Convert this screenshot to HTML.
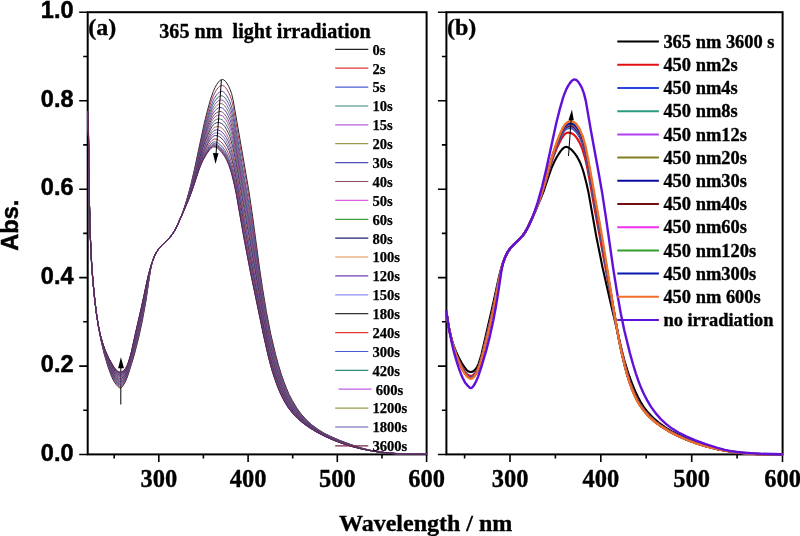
<!DOCTYPE html>
<html><head><meta charset="utf-8"><style>
html,body{margin:0;padding:0;background:#fff;}
body{width:800px;height:536px;overflow:hidden;}
svg{display:block;will-change:transform;}
.yl{font-family:"Liberation Sans",sans-serif;font-weight:bold;font-size:23.5px;text-anchor:end;}
.xl{font-family:"Liberation Serif",serif;font-weight:bold;font-size:24.5px;text-anchor:middle;}
.la{font-family:"Liberation Serif",serif;font-weight:bold;font-size:14.6px;}
.lb{font-family:"Liberation Serif",serif;font-weight:bold;font-size:18.45px;}
.t{font-family:"Liberation Serif",serif;font-weight:bold;}
.xl,.la,.lb,.t{stroke:#000;stroke-width:0.35px;}
.la{stroke-width:0.25px;}
.yl,.ab{stroke:#000;stroke-width:0.5px;}
</style></head><body>
<svg width="800" height="536" viewBox="0 0 800 536">
<g fill="none" stroke="#000" stroke-width="2"><rect x="87.7" y="12.2" width="338.9" height="442.2"/><rect x="446.4" y="12.2" width="336.2" height="442.2"/><path d="M79.2,454.5H87.7M83.2,410.3H87.7M79.2,366.1H87.7M83.2,321.8H87.7M79.2,277.6H87.7M83.2,233.4H87.7M79.2,189.2H87.7M83.2,144.9H87.7M79.2,100.7H87.7M83.2,56.5H87.7M79.2,12.2H87.7M437.9,454.5H446.4M441.9,410.3H446.4M437.9,366.1H446.4M441.9,321.8H446.4M437.9,277.6H446.4M441.9,233.4H446.4M437.9,189.2H446.4M441.9,144.9H446.4M437.9,100.7H446.4M441.9,56.5H446.4M437.9,12.2H446.4M114.2,454.5V458.5M158.8,454.5V462M203.4,454.5V458.5M248.1,454.5V462M292.7,454.5V458.5M337.3,454.5V462M382,454.5V458.5M426.6,454.5V462M464.6,454.5V458.5M510,454.5V462M555.4,454.5V458.5M600.8,454.5V462M646.2,454.5V458.5M691.7,454.5V462M737.1,454.5V458.5M782.5,454.5V462" stroke-width="1.6"/></g>
<path d="M120.8,404.5 V367" stroke="#000" stroke-width="1"/>
<g fill="none" stroke-width="0.9" stroke-linejoin="round">
<path d="M87.6,112.1 88.1,112.1 88.4,123.1 89.2,190.8 90.1,233.2 91,253.8 91.8,268.3 93.2,284.9 94.5,297.9 96.8,315.4 99,329.5 101.7,343.2 104.3,354.3 107.9,366.5 111.5,376.3 112.8,379.2 114.6,382.4 116,384.3 117.7,386.3 119.5,387.8 120.4,388.1 120.9,388.1 121.8,387.4 122.6,386.3 124.9,382.6 126.7,378.7 128.4,373.9 134.3,354.8 138.7,337.5 142.3,321 145.9,301.2 150.3,270.8 151.7,264.4 153,259.8 155.2,254.3 156.6,251.9 158.4,249.2 161,246.1 168.6,238.6 171.3,235.4 173.5,232.2 175.8,228.5 177.5,225.1 181.1,216.9 183.3,210.7 186,202.4 188.7,193.1 190.9,184.5 194.5,169.1 204.3,123 207.5,110.2 210.6,99.1 213.3,91.4 215,87.6 216.8,84.4 218.6,81.9 219.9,80.5 221.3,79.6 222.6,79.5 224,80 225.8,81.7 227.1,83.6 228.9,86.8 230.2,89.8 231.6,93.6 233.3,100.9 248.5,188.7 252.1,212.6 259.2,265.6 262.4,287.3 266.4,311.6 270.8,334.2 275.7,354.8 278.4,364.7 281.1,373.6 283.8,381.4 286.5,388.3 289.1,394.4 292.3,400.5 296.7,407.9 301.2,414.1 306.1,419.6 311.5,424.6 317.3,428.9 323.5,432.8 331.1,436.6 339.6,440.3 350.7,444.5 361,447.9 368.6,449.9 376.2,451.4 385.1,452.6 394.9,453.4 426.6,454.3" stroke="#111"/>
<path d="M87.6,112.1 88.1,112.1 88.4,120.4 89.2,191 90.1,233 91,253.6 91.8,268.1 93.2,284.7 94.5,297.9 96.3,312.3 98.5,326.9 101.2,340.9 103.9,352.1 107.5,364.3 111,374.2 112.4,377.2 114.2,380.5 115.5,382.5 117.3,384.6 119.5,386.5 120.4,386.8 120.9,386.8 122.2,385.7 124,383.1 125.8,379.8 127.6,375.4 129.8,368.8 132.5,359.9 137.4,341.5 141.8,321.8 145.9,300 150.3,270.6 151.7,264.3 153,259.8 155.2,254.4 156.6,251.9 158.4,249.2 161,246.1 168.6,238.6 170.9,236 173.1,232.9 175.3,229.3 177.1,226 180.7,218 182.9,212.1 185.6,204.1 190.5,187 194.5,170.3 203.9,127.6 207,115.3 210.6,103.1 213.3,95.8 214.6,93.1 216.4,90.1 218.2,87.7 219.9,86.1 221.3,85.4 222.6,85.4 224,86.1 225.8,87.9 227.1,89.8 228.9,93 230.2,96.1 231.6,100 233.3,107.3 246.3,181.3 249.4,200.2 253,224.3 260.1,275.8 263.7,299.1 267.3,319.3 270.8,336.7 275.7,357 278.4,366.6 281.1,375.3 283.3,381.7 286,388.6 288.7,394.6 291.8,400.7 296.3,408.1 300.7,414.1 305.6,419.6 311,424.6 316.8,428.9 323.1,432.8 330.6,436.6 339.6,440.5 350.7,444.6 361,448 369,450.1 376.6,451.5 385.5,452.7 395.4,453.4 406.1,453.9 426.6,454.3" stroke="#9b2945"/>
<path d="M87.6,112 88.1,112 88.4,120.2 89.2,191.2 90.1,232.7 91,253.3 91.8,267.9 93.2,284.6 94.5,297.9 96.3,312.3 98.5,326.9 101.2,340.7 103.9,351.7 107.5,363.5 111,373.2 112.4,376.1 114.2,379.4 115.5,381.3 117.3,383.4 119.1,385 120.4,385.5 120.9,385.5 121.8,384.9 123.5,382.7 125.3,379.6 127.1,375.6 128.9,370.6 131.6,361.9 136.9,341.9 141.4,322.5 145.4,301.4 150.3,270.4 151.7,264.3 153.4,258.5 155.7,253.5 157,251.2 158.8,248.6 161.5,245.6 168.6,238.7 170.9,236 173.1,233 176.7,226.8 180.7,218 182.9,212.1 185.6,204.3 190.5,187.7 194.1,173.3 203.4,132.2 207,118.7 210.1,108.5 212.8,101.4 214.1,98.7 215.9,95.9 217.7,93.6 219.5,92.1 220.8,91.4 222.2,91.3 223.5,91.9 225.3,93.6 226.6,95.4 228.4,98.6 229.8,101.5 231.1,105.2 232.4,109.9 233.3,113.9 249.4,206.2 253,229.7 260.1,279.7 263.7,302.4 267.3,322.3 270.8,339.4 275.7,359.2 278.4,368.6 281.1,377.1 283.3,383.3 286,390 288.7,395.9 291.8,401.8 296.3,408.9 300.7,414.8 306.1,420.6 311.5,425.3 317.3,429.5 323.9,433.5 331.5,437.2 340.5,441 351.2,444.9 361,448 369,450.1 377.1,451.6 386,452.7 396.3,453.5 407,453.9 426.6,454.3" stroke="#433d9d"/>
<path d="M87.6,112 88.1,112 88.3,117.4 89.2,191.3 90.1,232.5 91,253.1 91.8,267.8 93.2,284.6 94.5,297.9 96.3,312.4 98.5,326.9 100.8,338.4 103.5,349.7 106.6,360.3 110.6,371.3 111.9,374.4 113.7,377.8 115.5,380.5 117.3,382.5 119.1,384 120.4,384.6 120.9,384.5 121.8,383.9 123.5,381.8 125.3,378.8 127.1,374.9 128.9,369.9 131.1,362.7 136.5,342.6 140.9,323.5 145,303 150.3,270.2 151.7,264.2 153.4,258.5 155.7,253.5 157,251.2 158.8,248.6 161.5,245.6 168.6,238.7 172.6,233.7 176.2,227.7 180.2,219 182.5,213.4 185.1,205.8 190,189.8 193.6,176 203.4,134.1 206.6,122.7 209.7,112.7 212.4,105.6 213.7,102.9 215.5,100.2 217.3,98 219.1,96.5 220.8,95.8 222.2,95.8 223.5,96.5 225.3,98.2 226.6,100.1 228.4,103.3 229.8,106.3 231.1,110 233.3,118.7 249.4,210.6 253,233.7 259.7,279.6 263.2,302.2 266.8,322.1 270.4,339.4 275.3,359.2 278,368.6 280.7,377 282.9,383.3 285.6,390 288.2,395.9 291.4,401.8 295.8,408.8 300.3,414.7 305.2,420 311,425.2 316.8,429.4 323.5,433.4 331.5,437.4 340.5,441.1 351.2,445 361,448.1 369,450.1 377.1,451.6 386.4,452.8 396.7,453.5 407.9,454 426.6,454.3" stroke="#33586a"/>
<path d="M87.6,112 88.1,112 88.3,117.3 89.2,191.5 90.1,232.3 91,252.9 91.8,267.6 93.2,284.5 94.5,297.8 96.3,312.4 98.5,326.9 100.8,338.3 103.5,349.3 106.6,359.8 110.6,370.6 113.7,376.9 115.5,379.6 117.3,381.7 119.1,383.1 120.4,383.6 120.9,383.6 121.8,383 123.5,381 125.3,378.1 127.1,374.2 128.9,369.2 130.7,363.5 136.5,341.5 140.9,322.5 145,302 150.3,270 151.7,264.2 153.4,258.6 155.7,253.5 157,251.2 158.8,248.6 161.5,245.6 168.6,238.7 172.6,233.7 176.2,227.6 179.8,220 182.5,213.4 185.1,206 190,190.3 193.6,176.8 203,137.7 206.1,126.5 209.2,116.7 212.4,108.7 213.7,106.2 215,104.2 216.8,102.2 218.6,100.7 220.4,100 221.7,100 223.1,100.5 224.9,102.1 226.6,104.6 228.4,107.9 229.8,110.9 231.1,114.7 233.3,123.3 249.4,214.8 253,237.5 259.7,282.4 263.2,304.6 266.8,324.3 270.8,343.2 275.7,362.4 280.7,378.3 282.9,384.5 285.6,391 288.2,396.7 291.4,402.5 295.8,409.4 300.3,415.2 305.2,420.4 311,425.5 316.8,429.6 323.9,433.8 332,437.7 340.9,441.4 351.2,445.1 361,448.1 369,450.2 377.5,451.7 386.9,452.8 397.2,453.6 408.8,454 426.6,454.3" stroke="#8340a7"/>
<path d="M87.6,112 88.1,112 88.3,117.1 89.2,191.6 90.1,232.1 91,252.8 91.8,267.5 93.2,284.4 94.5,297.8 96.3,312.5 98.5,326.9 100.8,338.2 103.5,349.1 106.6,359.3 110.6,370 113.7,376.2 115.1,378.3 116.8,380.4 119.1,382.3 120.4,382.8 120.9,382.7 121.8,382.2 123.1,380.8 124.9,378.2 126.7,374.6 128.4,369.9 130.2,364.4 135.6,344.2 140.5,323.6 144.5,303.7 150.3,269.8 151.7,264.1 153.4,258.6 155.7,253.5 157,251.2 158.8,248.6 161.5,245.6 168.6,238.7 170.9,236.1 172.6,233.7 175.8,228.5 179.3,221 182,214.6 184.7,207.4 189.6,192.2 193.2,179.2 202.5,141 205.7,130 209.2,119.1 212.4,111.5 213.7,109.1 215,107.3 216.8,105.5 218.6,104.2 220.4,103.6 221.7,103.7 223.1,104.3 224.9,106 226.6,108.6 228.4,111.9 229.8,115 231.1,118.8 233.3,127.4 249.4,218.6 259.7,284.9 263.2,306.7 266.8,326.1 270.4,342.9 274.9,360.6 277.5,369.8 280.2,378.1 282.4,384.3 285.1,390.9 287.8,396.6 290.9,402.4 295.4,409.3 299.8,415.1 304.8,420.3 310.6,425.4 316.8,429.8 323.5,433.7 331.5,437.7 340.5,441.4 351.2,445.2 361,448.2 369,450.2 377.5,451.7 386.9,452.9 397.6,453.6 409.2,454 426.6,454.3" stroke="#726252"/>
<path d="M87.6,112 88.1,112 88.3,117 89.2,191.7 90.1,232 91,252.6 91.8,267.4 93.2,284.3 94.5,297.8 96.3,312.5 98.1,324.3 100.3,336 103,347.2 106.1,357.5 110.1,368.2 111.9,372.2 113.7,375.4 115.1,377.5 116.8,379.6 119.1,381.5 120.4,381.9 121.8,381.4 123.1,380 124.9,377.5 126.7,374 128.4,369.3 130.2,363.7 135.6,343.2 140.5,322.6 144.5,302.8 150.3,269.7 151.7,264.1 153.4,258.6 155.7,253.6 157,251.2 158.8,248.6 161.5,245.6 168.6,238.7 170.9,236.1 172.6,233.7 175.8,228.5 178.9,222 181.6,215.7 184.2,208.7 186.9,201.1 189.6,192.6 193.2,179.9 199.4,154.6 202.5,142.7 205.7,132.1 208.8,122.9 211.9,115.3 213.3,112.9 214.6,111 216.4,109.3 218.2,108.1 219.9,107.5 221.3,107.6 222.6,108.1 224.4,109.7 226.2,112.1 228,115.3 229.8,119.3 231.1,123.2 233.3,131.8 249.4,222.6 259.7,287.5 263.2,308.9 266.8,328.1 270.8,346.6 273.1,355.6 275.7,365.3 280.7,380.6 282.9,386.6 285.6,392.9 288.2,398.4 290.9,403.2 295.4,409.9 299.8,415.5 305.2,421 311,426 317.3,430.3 324.4,434.4 332.4,438.2 341.4,441.8 351.6,445.4 361.4,448.4 369.5,450.3 378,451.8 387.3,452.9 398,453.7 410.1,454.1 426.6,454.3" stroke="#46368f"/>
<path d="M87.6,112 88.1,112 88.2,114.1 89.2,191.9 90.1,231.8 91,252.4 91.8,267.2 93.2,284.3 94.5,297.8 96.3,312.6 98.1,324.3 100.3,335.9 103,346.9 106.1,357.1 110.1,367.6 111.9,371.4 113.7,374.6 115.5,377.3 116.8,378.8 118.6,380.3 119.5,380.8 120.4,381 121.8,380.5 123.1,379.2 124.9,376.7 126.7,373.3 128,369.9 129.8,364.5 132.9,353.1 140.5,321.6 144.1,304.2 150.3,269.5 151.7,264 153.4,258.6 155.7,253.6 158.4,249.2 161,246 167.7,239.6 171.3,235.6 174.4,230.9 178,223.9 181.1,216.8 183.8,210 189.2,194.5 193.2,180.6 202.1,145.9 205.2,135.6 208.8,125.5 211.9,118.3 213.3,116 214.6,114.4 216.4,112.8 218.2,111.9 219.9,111.5 221.3,111.7 222.6,112.3 224.4,114 226.2,116.4 228,119.7 229.3,122.7 230.7,126.3 232,130.8 233.3,136.3 236,150.7 249.4,226.7 262.8,308.7 266.8,330.2 270.4,346.6 274.9,363.8 277.5,372.6 280.2,380.6 282.4,386.6 285.1,392.9 287.8,398.4 290.5,403.2 294.5,409.3 299.4,415.5 304.8,421 310.6,425.9 316.8,430.2 323.9,434.3 332,438.2 340.9,441.8 351.2,445.4 361,448.3 369.5,450.3 378,451.8 387.8,453 398.5,453.7 410.5,454.1 426.6,454.2" stroke="#68335c"/>
<path d="M87.6,112 88.1,112 88.2,113.9 89.2,192 90.1,231.6 91,252.3 91.8,267.1 93.2,284.2 94.5,297.8 96.3,312.6 98.1,324.3 100.3,335.8 103,346.6 106.1,356.7 110.1,366.9 111.9,370.7 113.7,373.9 115.5,376.5 116.8,378.1 118.6,379.5 119.5,380 120.4,380.2 121.8,379.7 123.1,378.4 124.9,376 126.7,372.7 128,369.3 129.8,363.9 132.5,354.1 140.1,322.6 143.6,305.7 150.3,269.3 152.1,262.5 153.9,257.5 156.6,252 159.2,248.1 161.9,245.1 168.6,238.7 172.2,234.4 174.9,230.2 177.5,224.9 180.7,217.9 183.3,211.2 186.5,202.8 189.2,194.8 193.2,181.2 201.6,149 204.8,138.8 208.3,128.9 211.5,121.7 212.8,119.5 214.1,117.7 215.9,116.2 217.7,115.3 219.5,115 220.8,115.2 222.6,116.1 224,117.3 225.8,119.6 227.5,122.7 229.3,126.7 230.7,130.3 232,134.8 233.3,140.3 236.5,157 249.9,233 262.8,310.8 266.8,332 270.4,348.2 274.9,365.2 277.5,373.9 280.2,381.8 282.4,387.6 285.1,393.8 287.8,399.2 290.5,403.9 294.5,409.8 299.4,415.9 304.8,421.3 310.6,426.1 316.8,430.4 323.9,434.5 332,438.3 341.4,442.1 351.2,445.4 361,448.3 369.5,450.3 378.4,451.9 388.2,453 398.9,453.8 411,454.2 426.6,454.2" stroke="#9b40a7"/>
<path d="M87.6,112 88.1,112 88.2,113.7 89.2,192.1 90.1,231.4 91,252.1 91.8,267 93.2,284.1 94.5,297.8 96.3,312.6 98.1,324.3 100.3,335.7 103,346.4 106.1,356.2 110.1,366.3 111.9,370 113.7,373.1 115.5,375.7 116.8,377.2 118.6,378.7 119.5,379.1 120.4,379.3 121.8,378.8 123.1,377.6 124.9,375.3 126.7,372 128,368.7 129.8,363.2 132.5,353.4 140.9,317.6 144.1,302.4 150.3,269.2 152.1,262.5 153.9,257.5 156.1,252.8 158.4,249.2 161,246 167.7,239.6 170.9,236.2 174,231.7 176.7,226.7 179.8,219.9 182.9,212.4 186,204.2 188.7,196.6 192.7,183.5 199,159.9 201.6,150.5 204.8,140.8 207.9,132.4 211,125.4 212.4,123.1 213.7,121.4 215,120.2 216.8,119.2 218.6,118.8 220.4,119 222.2,119.8 223.5,121 225.3,123.2 227.1,126.2 228.9,129.9 230.2,133.4 231.6,137.7 232.9,142.8 236,158.7 249.4,234.4 261.9,308.2 265,325.1 268.2,340.4 270.4,350 273.1,360.4 275.7,369.7 278.4,378 281.1,385.4 284.2,392.8 286.9,398.4 290,403.9 294.5,410.5 299.4,416.4 304.8,421.6 310.6,426.4 316.8,430.6 323.9,434.6 332.4,438.6 341.4,442.2 351.6,445.7 361.4,448.5 369.9,450.5 378.9,452 388.7,453.1 399.8,453.8 411.9,454.2 426.6,454.2" stroke="#3d6549"/>
<path d="M87.6,112 88.1,112 88.2,113.5 89.2,192.2 90.1,231.2 91,251.9 91.8,266.9 93.2,284.1 95,301.8 96.8,315.9 98.5,326.9 100.8,337.6 103,346.1 106.1,355.7 110.1,365.6 113.7,372.4 115.5,374.9 116.8,376.4 118.6,377.9 119.5,378.3 120.4,378.4 121.8,378 123.1,376.8 124.9,374.6 126.2,372.2 127.6,369.2 129.3,364 132,354.4 140.9,316.6 143.6,303.8 150.3,269 152.1,262.4 153.9,257.5 156.1,252.8 158.8,248.6 161.5,245.6 167.7,239.6 170.9,236.2 173.5,232.5 176.2,227.6 182.5,213.6 185.6,205.6 188.7,196.9 192.7,184.1 201.2,153.5 204.3,144 207.5,135.9 210.6,129 211.9,126.7 213.3,124.9 214.6,123.7 216.4,122.8 218.2,122.5 219.9,122.7 221.7,123.6 223.1,124.6 224.9,126.7 226.6,129.6 228.4,133.2 229.8,136.5 232.4,145.4 234.2,153.4 236.9,167.9 242.3,198.9 250.7,246 261.9,310.6 265,327.2 268.2,342.3 270.4,351.8 273.1,362.1 275.7,371.2 278.4,379.3 281.1,386.5 284.2,393.9 286.9,399.3 290,404.7 294.5,411.1 299.4,416.8 304.8,422 310.6,426.6 316.8,430.8 324.4,435 332.9,438.9 341.8,442.5 351.6,445.8 361.4,448.6 370.4,450.6 379.3,452 389.1,453.1 400.3,453.9 412.3,454.2 426.6,454.2" stroke="#2a1a65"/>
<path d="M87.6,112 88.1,112 88.2,113.3 89.2,192.4 90.1,231 91,251.7 91.8,266.7 93.2,284 95,301.8 96.8,315.9 98.5,326.9 100.8,337.4 103,345.8 106.1,355.2 110.1,364.9 113.7,371.5 115.5,374.1 116.8,375.5 118.6,376.9 119.5,377.3 120.4,377.5 121.8,377 123.1,375.9 124.9,373.8 126.2,371.5 127.6,368.5 129.3,363.3 132,353.6 140.9,315.6 150.3,268.8 152.1,262.4 153.9,257.5 156.1,252.8 158.8,248.6 161.5,245.6 167.7,239.6 170.4,236.8 173.1,233.2 175.8,228.5 178.9,221.8 182.5,213.6 185.6,205.8 188.7,197.3 192.7,184.8 200.8,156.6 203.4,148.6 206.6,140.5 210.1,132.9 211.5,130.6 212.8,128.8 214.1,127.6 215.5,126.9 217.3,126.5 219.1,126.7 220.8,127.4 222.6,128.7 224.4,130.8 226.2,133.5 228,137 229.3,140.2 231.1,145.4 232.4,150.3 234.2,158.2 236.5,170 242.7,206.1 261.5,310.8 265,329.6 268.2,344.4 270.4,353.8 273.1,363.9 275.7,372.8 278.4,380.8 281.1,387.8 283.8,394 286.5,399.4 289.6,404.8 293.6,410.6 298.5,416.4 303.9,421.6 310.1,426.6 316.8,431 323.9,435 332.4,438.9 341.8,442.6 351.6,445.9 361.4,448.6 370.4,450.6 379.3,452.1 389.6,453.2 400.7,453.9 412.8,454.3 426.6,454.2" stroke="#9b5c52"/>
<path d="M87.6,112 88.1,112 88.2,113.1 89.2,192.5 90.1,230.9 91,251.6 91.8,266.6 93.2,283.9 95,301.8 96.8,316 98.5,326.9 100.8,337.3 103,345.6 106.1,354.8 109.7,363.3 113.3,370.1 115.1,372.7 116.4,374.3 118.2,375.9 120,376.6 121.3,376.4 122.6,375.6 124.4,373.7 125.8,371.7 127.1,368.9 128.9,364.1 132,352.9 140.5,316.6 143.2,304.1 149.9,270.5 151.7,263.8 153.9,257.5 156.1,252.8 158.8,248.6 161.5,245.5 168.2,239.2 170.9,236.3 173.5,232.5 175.8,228.5 182.5,213.6 188.7,197.6 192.7,185.4 200.3,159.3 203,151.4 206.1,143.6 209.7,136.2 211,133.9 212.4,132.1 213.7,130.8 215,130.1 216.8,129.8 218.6,130.1 220.8,131.1 222.6,132.6 224.4,134.7 226.2,137.4 228,141 229.3,144.2 231.1,149.5 232.4,154.4 234.2,162.2 236.5,173.9 243.2,212.5 261,310.7 265,331.6 268.2,346.2 270.4,355.5 273.1,365.4 275.7,374.2 278.4,382 281.1,388.9 283.8,395 286.5,400.3 289.6,405.5 294,411.7 299,417.3 304.3,422.3 310.6,427.2 317.3,431.5 324.8,435.5 333.3,439.4 342.2,442.9 352.1,446.1 361.4,448.7 370.4,450.6 379.7,452.1 390,453.3 401.2,454 413.2,454.3 426.6,454.2" stroke="#592d8a"/>
<path d="M87.6,112 88.1,112 88.2,112.9 89.2,192.6 90.1,230.7 91,251.4 91.8,266.5 93.2,283.8 95,301.8 96.3,312.8 98.1,324.4 100.3,335.3 102.6,343.8 105.7,353.3 109.3,361.8 111,365.4 113.3,369.4 115.1,372 116.4,373.6 118.2,375.1 120,375.9 121.3,375.7 122.6,374.9 124.4,373 125.8,371.1 127.1,368.4 128.9,363.5 131.6,354.1 140.5,315.8 149.9,270.3 151.7,263.8 153.9,257.5 156.1,252.8 158.8,248.6 161.5,245.5 167.7,239.7 170.4,236.8 173.1,233.3 175.3,229.4 182.5,213.7 188.7,197.9 192.7,186 199.9,161.8 202.5,154.1 205.2,147.5 208.8,140 210.6,137 211.9,135.1 213.3,133.8 214.6,133.1 215.9,132.8 217.7,133 219.9,133.9 221.7,135.2 224,137.7 225.8,140.3 227.5,143.7 229.3,148 230.7,151.9 232.4,158.2 234.2,166 236.5,177.5 244.1,221.1 260.1,308.1 264.6,331.2 268.2,347.9 272.6,365.3 275.3,374.1 278,381.9 280.7,388.9 283.3,395 286,400.3 289.1,405.5 293.6,411.7 298.5,417.3 303.9,422.2 310.1,427.1 316.8,431.4 324.4,435.5 332.9,439.3 342.2,443 352.1,446.2 361.4,448.7 370.8,450.7 380.2,452.2 390.5,453.3 401.6,454 413.2,454.3 426.6,454.2" stroke="#6c5cb0"/>
<path d="M87.6,112 88.1,112 88.2,112.7 89.2,192.7 90.1,230.6 91,251.3 91.8,266.4 93.2,283.8 95,301.8 96.3,312.9 98.1,324.4 100.3,335.3 102.6,343.7 105.7,352.9 109.3,361.3 113.3,368.8 115.1,371.4 116.4,373 118.2,374.5 120,375.2 121.3,375 122.6,374.2 124.4,372.4 126.2,369.7 127.6,366.8 128.9,363 131.6,353.6 140.5,315 149.4,272 151.7,263.7 153.9,257.5 156.1,252.8 158.8,248.6 161.5,245.5 167.7,239.7 170.4,236.9 173.1,233.3 175.3,229.4 182.5,213.7 188.7,198.2 192.3,187.9 199.9,162.9 202.1,156.6 204.8,150.1 208.3,142.8 210.1,139.8 211.5,138 212.8,136.6 214.1,135.8 215.5,135.5 217.3,135.7 219.1,136.5 221.3,138 223.5,140.4 225.3,143 227.1,146.2 228.9,150.3 230.7,155.4 232,160.1 233.8,167.4 236,178.5 244.5,227 259.2,305.5 264.6,332.9 268.2,349.4 272.6,366.7 275.3,375.3 278,383 280.7,389.9 283.3,395.8 286,401 289.1,406.2 293.6,412.2 298.5,417.6 303.9,422.5 310.1,427.3 316.8,431.5 324.8,435.8 333.3,439.6 342.7,443.2 352.5,446.4 361.9,448.8 371.3,450.8 380.6,452.3 390.9,453.4 402.1,454.1 413.7,454.3 426.6,454.2" stroke="#352541"/>
<path d="M87.6,112 88.1,112 88.2,112.5 89.2,192.9 90.1,230.4 91,251.1 91.8,266.2 93.2,283.7 95,301.8 96.3,312.9 98.1,324.4 100.3,335.2 102.6,343.4 105.7,352.5 109.3,360.6 113.3,368 115.1,370.6 116.4,372.2 118.2,373.6 120,374.2 121.3,374.1 123.1,373 124.9,371.1 126.2,369 127.6,366.1 128.9,362.3 131.6,352.8 140.5,313.9 147.2,281.6 149.4,271.7 151.7,263.7 154.3,256.5 156.6,252 159.2,248.1 161.9,245.1 167.7,239.7 170.4,236.9 172.6,234 174.9,230.3 182.5,213.7 188.7,198.6 192.3,188.5 199.4,165.6 201.6,159.4 203.9,154.1 207.5,147 209.2,144 211,141.5 212.4,140.1 213.7,139.3 215,139 216.4,139.2 218.6,140.1 220.8,141.8 223.1,144.2 225.3,147.4 227.1,150.7 228.9,154.9 230.2,158.6 232,164.7 233.8,172 236,182.9 244.5,231.4 256.1,292.3 264.1,333 268.2,351.5 272.6,368.4 274.9,375.6 277.5,383.3 280.2,390.1 282.9,396 285.6,401.2 288.7,406.4 293.2,412.4 298.1,417.7 303.4,422.6 309.7,427.3 316.8,431.7 324.4,435.8 333.3,439.8 342.7,443.3 352.1,446.3 361.9,448.9 371.3,450.8 381.1,452.3 391.3,453.4 402.5,454.1 414.1,454.3 426.6,454.2" stroke="#9b2945"/>
<path d="M87.6,112 88.1,112 88.2,112.3 89.2,193 90.1,230.2 91,251 91.8,266.1 93.2,283.7 95,301.8 96.3,312.9 98.1,324.4 100.3,335.1 102.6,343.2 105.2,351 108.8,359.2 112.8,366.6 114.6,369.3 116.4,371.5 118.2,372.9 120,373.5 121.3,373.3 123.1,372.3 124.9,370.5 126.2,368.4 127.6,365.5 128.9,361.8 131.6,352.2 140.5,313.1 149,273.2 151.7,263.6 154.3,256.5 156.6,252.1 159.2,248.1 161.9,245.1 167.7,239.7 170.4,236.9 172.6,234 174.9,230.3 182.9,212.7 188.7,198.9 192.3,189 199,167.9 201.2,161.9 203.4,156.7 207,149.8 208.8,146.8 210.6,144.4 211.9,143 213.3,142.1 214.6,141.8 215.9,142 218.2,143 220.4,144.8 222.6,147.2 224.9,150.3 226.6,153.5 228.4,157.4 230.2,162.4 231.6,166.9 233.8,175.7 236,186.5 244.5,235 253,279.2 263.7,332.8 268.2,353.1 270.4,362 272.6,369.9 274.9,376.9 277.5,384.5 280.2,391.1 282.9,397 285.6,402 288.7,407.1 293.2,412.9 298.1,418.1 303.9,423.2 310.1,427.8 317.3,432.2 325.3,436.3 334.2,440.3 343.1,443.6 352.5,446.5 361.9,448.9 371.7,450.9 381.5,452.4 391.8,453.5 403,454.1 414.6,454.4 426.6,454.2" stroke="#433d9d"/>
<path d="M87.6,112 88.1,112 88.2,112.2 89.2,193.1 90.1,230.1 91,250.9 91.8,266 93.2,283.6 95,301.8 96.3,313 98.1,324.5 100.3,335 102.6,343.1 105.2,350.7 108.8,358.9 112.8,366.2 114.6,368.9 116.4,371 118.2,372.4 120,373 121.3,372.8 123.1,371.8 124.9,370 126.2,368 127.6,365.2 128.9,361.4 131.6,351.8 140.5,312.5 148.5,274.8 151.2,265 154.3,256.5 156.6,252.1 159.2,248.1 161.9,245.1 168.2,239.2 170.4,236.9 172.6,234 174.4,231.1 176.7,226.6 182.5,213.7 188.7,199 192.3,189.4 199,168.6 200.8,163.8 203,158.6 206.6,151.8 210.1,146.4 211.5,145 212.8,144 214.1,143.6 215.5,143.7 217.7,144.7 219.9,146.5 222.6,149.4 224.9,152.6 226.6,155.8 228.4,159.8 230.2,164.8 231.6,169.3 233.8,178.2 236,188.8 244.1,235 251.2,272.3 263.2,331.8 267.7,352.3 269.9,361.3 272.2,369.3 274.4,376.5 277.1,384.1 279.8,390.8 282.4,396.7 285.1,401.8 288.2,406.9 292.7,412.8 297.6,418 303.4,423.1 309.7,427.6 316.8,432 324.8,436.2 333.8,440.1 343.1,443.6 352.5,446.6 361.9,449 371.7,450.9 381.5,452.4 392.2,453.5 403,454.2 414.6,454.4 426.6,454.2" stroke="#33586a"/>
<path d="M87.6,112 88.1,112 88.2,112.1 89.2,193.1 90.1,230.1 91,250.8 91.8,266 93.2,283.6 95,301.8 96.3,313 98.1,324.5 100.3,335 102.6,343 105.2,350.6 108.8,358.7 113.3,366.6 115.1,369.2 116.4,370.8 118.2,372.2 120,372.7 121.3,372.6 123.1,371.6 124.9,369.8 126.2,367.8 127.6,364.9 128.9,361.2 130.7,355.1 132,349.6 141.8,306.2 146.3,284.6 148.5,274.7 151.2,265 154.3,256.5 156.6,252.1 159.2,248.1 161.9,245.1 168.2,239.2 170.4,236.9 172.6,234.1 174.4,231.1 176.7,226.6 182.9,212.8 188.7,199.2 192.3,189.6 199,169 200.8,164.3 203,159.2 206.6,152.5 210.1,147.3 211.5,145.9 212.8,145 214.1,144.6 215.5,144.8 217.7,145.9 219.9,147.7 222.6,150.7 224.9,153.9 226.6,157.2 228.4,161.2 230.2,166.2 231.6,170.7 233.8,179.5 236,190.1 244.1,236.3 251.2,273.5 263.7,334.7 268.2,354.8 270.4,363.5 272.6,371.3 274.9,378.3 277.5,385.7 280.2,392.2 282.9,397.9 285.6,402.9 288.2,407.1 292.7,413 297.6,418.2 303.4,423.2 309.7,427.7 316.8,432.1 324.8,436.2 333.8,440.2 343.1,443.7 352.5,446.6 361.9,449 371.7,450.9 382,452.5 392.7,453.6 403.4,454.2 414.6,454.4 426.6,454.2" stroke="#8840a7"/>
<path d="M87.6,112 88.2,112.1 89.2,193.1 90.1,230 91,250.8 91.8,266 93.2,283.6 95,301.8 96.3,313 98.1,324.5 100.3,335 102.6,342.9 105.2,350.5 108.8,358.5 113.3,366.4 115.1,369 116.4,370.6 118.2,371.9 120,372.5 121.3,372.3 123.1,371.4 124.9,369.6 126.2,367.6 127.6,364.8 128.9,361 130.7,355 132,349.5 141.8,306 146.3,284.4 148.5,274.6 151.2,265 154.3,256.5 156.6,252.1 159.2,248.1 161.9,245.1 168.2,239.2 170.4,236.9 172.6,234.1 174.4,231.1 176.7,226.6 183.3,211.8 189.2,198.1 192.3,189.7 199,169.3 200.8,164.6 203,159.6 206.6,153 210.1,147.9 211.5,146.6 212.8,145.7 214.1,145.4 215.5,145.6 217.7,146.8 219.9,148.7 222.6,151.7 224.9,155 226.6,158.2 228.4,162.3 230.2,167.3 231.6,171.8 233.8,180.6 236,191.2 244.1,237.3 250.7,272.2 263.7,335.2 268.2,355.3 270.4,364 272.6,371.7 274.9,378.7 277.5,386 280.2,392.5 282.9,398.2 285.6,403.1 288.2,407.4 292.7,413.1 297.6,418.3 303.4,423.3 309.7,427.8 317.3,432.4 325.3,436.5 334.2,440.4 343.1,443.7 352.5,446.6 361.9,449 371.7,450.9 382,452.5 392.7,453.6 403.4,454.2 414.6,454.4 426.6,454.2" stroke="#726252"/>
<path d="M87.6,112 88.2,112 89.2,193.2 90.1,230 91,250.7 91.8,265.9 93.2,283.6 95,301.8 96.3,313 98.1,324.5 100.3,334.9 102.6,342.9 105.2,350.4 108.8,358.4 113.3,366.3 115.1,368.9 116.4,370.4 118.2,371.8 120,372.3 121.3,372.2 123.1,371.2 124.9,369.5 126.2,367.5 127.6,364.7 128.9,360.9 130.7,354.8 132,349.3 135.1,334.9 141.8,305.8 148.1,276.3 151.2,265 154.3,256.5 156.6,252.1 159.2,248.1 161.9,245.1 168.2,239.2 170.4,236.9 172.6,234.1 174.4,231.1 176.7,226.6 183.3,211.8 189.2,198.2 192.7,188.5 198.5,170.7 200.3,166 202.5,160.8 206.1,154.2 209.7,149 211,147.5 212.4,146.5 213.7,146 215,146.1 217.3,147.1 219.5,149 222.2,151.9 224.4,155.1 226.6,159.1 228.4,163.1 229.8,166.8 231.6,172.7 233.8,181.5 236,192 244.1,238.1 250.7,273 263.7,335.7 268.2,355.7 270.4,364.3 272.6,372.1 274.9,378.9 277.5,386.3 280.2,392.7 282.9,398.4 285.6,403.3 288.2,407.5 292.7,413.3 297.6,418.4 303.4,423.4 309.7,427.8 317.3,432.4 325.3,436.5 334.2,440.4 343.6,443.9 353,446.8 362.3,449.1 372.2,451 382.4,452.5 393.1,453.6 403.8,454.2 415,454.4 426.6,454.2" stroke="#4b3b86"/>
<path d="M87.6,112 88.2,112 89.2,193.2 90.1,229.9 91,250.7 91.8,265.9 93.2,283.5 95,301.8 96.3,313 98.1,324.5 100.3,334.9 102.6,342.8 105.2,350.3 108.8,358.2 113.3,366.1 115.1,368.6 116.4,370.2 118.2,371.6 119.5,372 121.3,371.9 123.1,371 124.4,369.8 125.8,368 127.1,365.5 128.4,362.1 130.2,356.3 131.6,351.1 135.1,334.6 141.8,305.5 148.1,276.1 151.2,264.9 154.3,256.5 156.6,252.1 159.2,248.1 161.9,245.1 170.4,236.9 172.6,234.1 174.4,231.1 176.7,226.6 183.8,210.8 189.2,198.3 192.7,188.7 198.5,171.1 200.3,166.4 202.5,161.3 206.1,154.8 209.7,149.7 211,148.3 212.4,147.3 213.7,146.9 215,147 217.3,148.1 219.5,150 222.2,153 224.9,156.9 226.6,160.2 228.4,164.3 229.8,168 231.6,173.9 234.2,184.6 236.5,195.5 243.6,236.8 250.3,271.8 263.7,336.3 268.2,356.2 270.4,364.8 272.6,372.5 274.9,379.4 277.5,386.7 280.2,393.1 282.9,398.7 285.6,403.6 288.2,407.7 292.7,413.5 297.6,418.5 303.4,423.5 309.7,427.9 317.3,432.5 325.3,436.6 334.2,440.5 343.6,443.9 353,446.8 362.3,449.1 372.2,451 382.4,452.5 393.1,453.6 403.8,454.2 415,454.4 426.6,454.2" stroke="#5f1f4e"/>
</g>
<g fill="none" stroke-width="1.2"><path d="M335.2,49.3H368.3" stroke="#222222"/><path d="M335.2,68.2H368.3" stroke="#e03a3a"/><path d="M335.2,87.1H368.3" stroke="#4a5ccf"/><path d="M335.2,106H368.3" stroke="#2f8a78"/><path d="M335.2,124.8H368.3" stroke="#b860e0"/><path d="M335.2,143.7H368.3" stroke="#9a9a50"/><path d="M335.2,162.6H368.3" stroke="#5050b8"/><path d="M335.2,181.5H368.3" stroke="#8a4a60"/><path d="M335.2,200.4H368.3" stroke="#e060e0"/><path d="M335.2,219.3H368.3" stroke="#40a040"/><path d="M335.2,238.2H368.3" stroke="#202070"/><path d="M335.2,257H368.3" stroke="#e09050"/><path d="M335.2,275.9H368.3" stroke="#7040b0"/><path d="M335.2,294.8H368.3" stroke="#9090f0"/><path d="M335.2,313.7H368.3" stroke="#333333"/><path d="M335.2,332.6H368.3" stroke="#e03a3a"/><path d="M335.2,351.5H368.3" stroke="#4a5ccf"/><path d="M335.2,370.4H368.3" stroke="#2f8a78"/><path d="M338.5,389.2H371.6" stroke="#c060e0"/><path d="M335.2,408.1H368.3" stroke="#9a9a50"/><path d="M335.2,427H368.3" stroke="#5858a8"/><path d="M335.2,445.9H368.3" stroke="#7a2848"/></g>
<g fill="none" stroke-width="2.1" stroke-linejoin="round">
<path d="M446.2,311.3 447.3,319.2 448.7,326.8 451.4,338.3 453.2,344.2 455,349.2 456.9,353.5 459.1,358.2 461.9,363.2 464.6,367.4 466.4,369.7 468.2,371.3 470,372 471.9,371.9 472.8,371.6 474.1,370.7 475.9,368.7 477.3,366.5 478.7,363.3 481.4,354.7 492.7,305.5 499.1,276.1 501.8,266.3 505,257.6 507.3,252.9 510,248.7 513.2,245.1 519.5,239.2 522.3,236.4 524.5,233.4 526.8,229.4 535.9,209.8 540.4,199.4 544.1,190 549.1,174.9 551.3,168.6 554.1,162.3 556.8,157 560.4,151.4 563.1,148.3 564.5,147.3 565.4,147 566.8,146.9 568.1,147.3 570.4,148.8 572.7,151 574.9,153.6 577.2,156.9 579,160.2 580.4,163.2 582.2,168 583.6,172.3 586.3,182.7 588.6,193.1 596.3,236.5 602.6,267.7 610.4,302.1 622.2,352.1 624.4,360.6 627.2,369.7 629.4,376.5 632.2,383.8 635.3,391.5 638.1,397.3 640.8,402.3 644,407.4 648.1,412.6 653.1,417.8 659,422.9 665.3,427.4 672.6,431.8 680.8,436 689.8,440 699.4,443.5 708.5,446.3 718,448.7 728,450.8 738,452.3 748.4,453.4 759.3,454.1 770.7,454.4 782.5,454.2" stroke="#000000"/>
<path d="M446.2,311.1 448.7,326.8 451.4,339 453.2,345.4 455,350.8 457.3,356.7 459.6,361.8 461.9,366.3 464.6,370.9 466.9,373.7 468.7,375.2 470.5,375.9 471.9,375.8 473.7,374.5 475.5,372.5 477.3,369.4 478.7,366.2 480.5,360.7 482.3,354.2 492.3,311.8 500.5,272.3 502.3,265.3 504.6,258.6 506.8,253.7 509.5,249.3 512.3,246 519.5,239.2 522.7,235.8 525.4,231.8 528.6,225.7 534.5,212.6 540,199.1 544.1,187.3 550,167.5 553.1,157.7 556.8,148.4 560.9,139.8 563.6,135.5 565,133.9 565.9,133.3 567.2,132.7 568.6,132.5 569.9,132.7 571.3,133.1 573.6,134.5 575.4,136.2 577.2,138.6 579,141.6 580.8,145.4 582.2,148.8 584.9,157.8 586.8,165.6 589,177.2 594.9,210.6 613.1,309.3 618.1,335.1 621.3,350.1 623.5,359.6 625.8,368.2 628.1,375.8 630.3,382.6 633.1,389.7 635.8,395.9 638.5,401.2 641.2,405.7 645.3,411.3 650.3,416.8 656.2,422 662.6,426.7 669.9,431.2 678,435.5 687.1,439.5 696.7,443.1 706.2,446.1 715.7,448.6 726.2,450.7 736.6,452.3 747.5,453.5 758.9,454.2 770.7,454.4 782.5,454.2" stroke="#e01010"/>
<path d="M446.2,311.1 448.7,326.9 450.1,333.5 451.9,340.9 453.7,347.2 455.5,352.6 457.8,358.5 460,363.6 462.3,368.1 464.6,371.9 466.9,374.8 468.7,376.3 470.5,377.1 471.9,376.9 473.7,375.6 475.5,373.5 477.3,370.3 478.7,367 480.5,361.6 482.3,355.1 492.3,313.1 500.9,270.7 502.7,263.8 504.6,258.6 507.3,252.8 510.5,248.1 513.2,245.1 520.4,238.3 524.1,233.9 526.8,229.4 530,222.8 535.4,210.4 540.4,197.4 544.1,186.6 550.4,164.5 553.6,154.4 557.2,144.7 561.3,135.7 564,131.1 565,130.1 566.3,128.9 567.7,128.3 569,128 570.4,128.1 572.2,128.6 574,129.7 575.9,131.4 577.7,133.8 579.5,136.9 581.3,140.9 582.7,144.5 585.4,153.9 589,171.8 594.5,202.7 600.8,237.2 614.9,318 618.5,337.3 621.3,350.5 623.5,360.3 625.8,369 628.1,376.7 630.3,383.5 632.6,389.6 635.3,395.9 638.1,401.2 640.8,405.7 644.9,411.3 649.9,416.8 655.8,422 662.1,426.7 669.9,431.5 678,435.7 687.1,439.7 696.7,443.3 706.2,446.3 716.2,448.8 726.2,450.8 736.6,452.4 747.5,453.5 758.9,454.2 770.7,454.4 782.5,454.2" stroke="#2848e0"/>
<path d="M446.2,311.1 448.7,326.9 450.1,333.5 451.9,341 453.7,347.3 455.5,352.7 457.8,358.6 460,363.8 462.3,368.3 464.6,372.1 466.9,375 468.7,376.5 470.5,377.3 471.9,377.1 473.7,375.8 475.5,373.7 477.3,370.5 478.7,367.2 480.5,361.8 482.3,355.3 492.7,311.3 500.9,270.7 502.7,263.8 504.6,258.6 507.3,252.8 510,248.6 512.7,245.6 519.1,239.6 521.8,236.8 524.5,233.2 527.3,228.5 534.1,213.6 537.2,205.8 540.4,197.3 544.5,184.9 552.7,156.8 555.9,147.6 559,139.8 562.7,132.4 564,130.3 565.4,128.8 566.8,127.7 568.6,127.1 570.4,127 572.2,127.5 574,128.6 575.9,130.2 577.7,132.6 579.5,135.7 581.3,139.6 582.7,143.3 585.4,152.7 589,170.6 600.8,236.1 614.9,317.8 618.5,337.3 621.3,350.6 625.4,367.5 627.6,375.5 629.9,382.5 632.2,388.6 634.9,395.1 637.2,399.7 640.3,405.2 644.4,410.9 649.4,416.4 655.3,421.7 661.7,426.5 669.4,431.3 677.6,435.5 686.7,439.6 696.2,443.2 705.7,446.2 715.3,448.6 725.7,450.7 736.2,452.3 747.1,453.5 758.4,454.2 770.2,454.4 782.5,454.2" stroke="#2a9a80"/>
<path d="M446.2,311.1 448.7,326.9 450.1,333.5 451.9,341 453.7,347.3 455.5,352.8 457.8,358.7 460,363.9 462.3,368.4 464.6,372.2 466.9,375.1 468.7,376.6 470.5,377.4 471.9,377.3 473.7,375.9 475.5,373.8 477.3,370.6 478.7,367.3 480.9,360.3 482.8,353.6 492.7,311.5 500.9,270.8 502.7,263.9 504.6,258.6 507.3,252.8 510,248.6 512.7,245.6 519.1,239.6 521.8,236.8 524.5,233.2 527.3,228.5 530.4,221.8 534.1,213.6 537.2,205.8 540.4,197.3 544.5,184.8 552.7,156.6 555.9,147.3 559,139.5 562.7,132.1 564,129.9 565.4,128.3 566.8,127.3 568.6,126.6 570.4,126.5 572.2,127 574,128 575.9,129.7 577.7,132 579.5,135.1 581.3,139 582.7,142.6 585.4,152.1 589,170 600.8,235.5 615.4,320.3 618.5,337.3 621.3,350.6 625.4,367.6 627.6,375.6 629.9,382.6 632.2,388.8 634.9,395.2 637.2,399.8 640.3,405.3 644.4,410.9 649.4,416.5 655.3,421.8 661.7,426.5 669.4,431.3 677.6,435.6 686.7,439.6 696.2,443.2 705.7,446.2 715.3,448.6 725.7,450.7 736.2,452.3 747.1,453.5 758.4,454.2 770.2,454.4 782.5,454.2" stroke="#b040f0"/>
<path d="M446.2,311.1 448.7,326.9 450.1,333.5 451.9,341 453.7,347.3 455.5,352.8 457.8,358.8 460,364 462.3,368.5 464.6,372.3 466.9,375.2 468.7,376.8 470.5,377.6 471.9,377.4 473.7,376 475.5,373.9 477.3,370.7 478.7,367.4 480.9,360.4 482.8,353.7 492.7,311.6 500.9,270.8 502.7,263.9 504.6,258.6 507.3,252.8 510.5,248.1 513.2,245.1 520.4,238.3 524.1,233.9 527.3,228.5 530.9,220.9 535.9,209.2 540.4,197.2 544.1,186.2 550.4,163.8 553.6,153.6 557.7,142.4 561.8,133.4 563.1,130.9 564.5,128.9 565.4,127.9 566.8,126.8 568.1,126.2 569.5,126 570.9,126.1 572.7,126.6 574.5,127.8 576.3,129.6 578.1,132.1 579.5,134.5 581.3,138.4 582.7,142 585.4,151.4 589,169.4 600.8,235 615.4,320.2 618.5,337.3 621.3,350.7 623.5,360.6 625.8,369.4 628.1,377.1 630.3,384 632.6,390 635.3,396.3 637.6,400.8 640.3,405.3 644.4,411 649.4,416.5 655.3,421.8 661.7,426.5 669.4,431.3 677.6,435.6 686.7,439.6 696.2,443.2 705.7,446.2 715.3,448.6 725.7,450.8 736.2,452.3 747.1,453.5 758.4,454.2 770.2,454.4 782.5,454.2" stroke="#808020"/>
<path d="M446.2,311.1 448.7,326.9 450.1,333.5 451.9,341 453.7,347.4 455.5,352.9 457.8,358.8 460,364.1 462.3,368.6 464.6,372.4 466.9,375.3 468.7,376.8 470.5,377.6 471.9,377.5 473.7,376.1 475.5,373.9 477.3,370.7 478.7,367.4 480.9,360.5 482.8,353.8 492.7,311.7 500.9,270.8 502.7,263.9 504.6,258.6 507.3,252.8 510.5,248.1 513.2,245.1 520.4,238.3 524.1,233.9 527.3,228.5 530.9,220.9 535.9,209.2 540.4,197.2 544.1,186.2 550.4,163.7 553.6,153.4 557.7,142.2 561.8,133.1 563.1,130.7 564.5,128.7 565.4,127.6 566.8,126.6 568.1,126 569.5,125.7 570.9,125.8 572.7,126.3 574.5,127.4 576.3,129.3 578.1,131.8 579.5,134.2 581.3,138.1 582.7,141.7 585.4,151.1 589,169.1 599.9,229.6 614,312.5 618.1,335 621.3,350.7 623.5,360.6 625.8,369.4 628.1,377.2 630.3,384 632.6,390.1 635.3,396.4 637.6,400.8 640.3,405.4 644.4,411 649.4,416.6 655.3,421.9 661.7,426.6 669.4,431.3 677.6,435.6 686.7,439.6 696.2,443.2 705.7,446.2 715.3,448.6 725.7,450.8 736.2,452.3 747.1,453.5 758.4,454.2 770.2,454.4 782.5,454.2" stroke="#0a0aa0"/>
<path d="M446.2,311 448.7,326.9 450.1,333.5 451.9,341.1 453.7,347.4 455.5,352.9 457.8,358.9 460,364.2 462.3,368.7 464.6,372.5 466.9,375.4 468.7,377 470.5,377.8 471.9,377.6 473.7,376.3 475.5,374.1 477.3,370.8 478.7,367.6 480.9,360.6 482.8,353.9 492.7,311.9 500.9,270.9 502.7,263.9 504.6,258.6 507.3,252.8 510,248.6 512.7,245.6 519.1,239.6 521.8,236.8 524.5,233.2 527.3,228.5 530.4,221.9 534.1,213.6 537.2,205.7 540.4,197.1 544.5,184.5 550.4,163.5 553.1,154.5 556.3,145.3 559.5,137.5 563.1,130.1 564.5,128.1 565.9,126.6 567.2,125.7 569,125.1 570.9,125.1 572.7,125.6 574.5,126.7 576.3,128.5 578.1,131 579.5,133.3 581.3,137.2 582.7,140.8 585.4,150.2 589,168.3 599.9,228.8 614,312.3 618.1,334.9 621.3,350.8 625.4,367.9 627.6,375.8 629.9,382.9 632.2,389.1 634.9,395.6 637.2,400.1 639.9,404.8 644,410.6 649,416.2 654.9,421.5 661.2,426.3 669,431.1 677.1,435.4 686.2,439.5 695.7,443.1 705.3,446.1 715.3,448.7 725.7,450.8 736.2,452.3 747.1,453.5 758.4,454.2 770.2,454.4 782.5,454.2" stroke="#701010"/>
<path d="M446.2,311 448.7,326.9 450.1,333.6 451.9,341.1 453.7,347.5 455.5,353 457.8,359 460,364.3 462.3,368.8 464.6,372.6 466.9,375.5 468.7,377.1 470.5,377.9 471.9,377.7 473.7,376.4 475.5,374.2 477.3,370.9 478.7,367.7 480.9,360.7 482.8,354 492.7,312 500.9,270.9 502.7,263.9 504.6,258.6 507.3,252.8 510,248.6 512.7,245.6 519.1,239.6 521.8,236.8 524.5,233.2 527.3,228.5 530.4,221.9 534.1,213.6 537.2,205.7 540.4,197.1 544.5,184.4 550.4,163.4 553.1,154.3 556.3,145.1 559.5,137.2 563.1,129.7 564.5,127.7 565.9,126.2 567.2,125.2 569,124.6 570.9,124.5 572.7,125 574.5,126.1 576.3,127.9 578.1,130.4 579.5,132.8 581.3,136.6 582.7,140.2 585.4,149.6 589,167.7 599.9,228.2 614,312.2 618.1,334.9 621.3,350.8 625.4,367.9 627.6,375.9 629.9,383 632.2,389.2 634.9,395.7 637.2,400.2 639.9,404.9 644,410.6 649,416.2 654.9,421.6 661.2,426.3 669,431.2 677.1,435.4 686.2,439.5 695.7,443.1 705.3,446.1 715.3,448.7 725.7,450.8 736.2,452.4 747.1,453.5 758.4,454.2 770.2,454.4 782.5,454.2" stroke="#f030f0"/>
<path d="M446.2,311 448.7,326.9 450.1,333.6 451.9,341.1 453.7,347.5 455.5,353 457.8,359.1 460,364.4 462.3,368.9 464.6,372.7 466.9,375.7 468.7,377.2 470.5,378 471.9,377.9 473.7,376.5 475.5,374.3 477.3,371 478.7,367.7 480.9,360.8 482.8,354.1 489.6,326 492.7,312.1 500.9,270.9 502.7,263.9 504.6,258.6 506.8,253.6 509.5,249.2 512.3,246 519.1,239.6 522.3,236.3 525,232.5 527.7,227.6 534.1,213.6 537.2,205.7 540.4,197 544.5,184.4 550.4,163.2 553.1,154.1 556.3,144.8 559.5,136.8 563.1,129.4 564.5,127.3 565.9,125.8 567.2,124.8 569,124.1 570.9,124 572.7,124.5 574.5,125.5 576.3,127.3 578.1,129.8 579.5,132.2 581.3,136 582.7,139.6 585.4,149 589,167.1 599.9,227.7 614,312.1 618.1,334.9 621.3,350.9 625.4,368 627.6,376 629.9,383.1 632.2,389.3 634.9,395.8 637.2,400.3 639.9,404.9 644,410.7 649,416.3 654.9,421.6 661.2,426.4 669,431.2 677.1,435.5 686.2,439.5 695.7,443.1 705.3,446.1 715.3,448.7 725.7,450.8 736.2,452.4 747.1,453.5 758.4,454.2 770.2,454.4 782.5,454.2" stroke="#30a030"/>
<path d="M446.2,311 448.7,326.9 450.1,333.6 451.9,341.1 453.7,347.5 455.5,353.1 457.8,359.1 460,364.4 462.3,369 464.6,372.8 466.9,375.8 468.7,377.3 470.5,378.2 471.9,378 473.7,376.6 475.5,374.4 477.3,371.1 478.7,367.8 480.9,360.9 482.8,354.2 489.6,326.2 492.7,312.3 500.9,271 502.7,263.9 504.6,258.6 506.8,253.6 509.5,249.2 512.3,246 519.1,239.6 522.3,236.2 525,232.5 527.7,227.6 534.1,213.6 537.2,205.7 540.4,197 544.5,184.3 550.4,163 553.1,153.9 556.3,144.5 559.5,136.5 563.1,129 564.5,126.9 565.9,125.3 567.2,124.3 569,123.6 570.9,123.5 572.7,123.9 574.5,125 576.3,126.7 578.1,129.2 579.5,131.6 581.3,135.4 582.7,139 585.4,148.4 589,166.5 599.9,227.1 614,312 618.1,334.9 621.3,350.9 625.4,368.1 627.6,376.1 629.9,383.2 632.2,389.4 634.9,395.9 637.2,400.4 639.9,405 644,410.8 649,416.3 654.9,421.7 661.2,426.4 669,431.2 677.1,435.5 686.2,439.5 695.7,443.1 705.3,446.1 715.3,448.7 725.7,450.8 736.2,452.4 747.1,453.5 758.4,454.2 770.2,454.4 782.5,454.2" stroke="#0818b0"/>
<path d="M446.2,311 448.7,326.9 450.1,333.6 451.9,341.3 453.7,347.7 456,354.6 458.2,360.6 460.5,365.8 462.8,370.3 465,374 467.3,376.7 469.1,378.1 470.5,378.7 471.9,378.5 473.7,377.1 475.5,374.8 477.3,371.5 478.7,368.2 480.9,361.3 482.8,354.7 489.6,326.8 492.7,312.9 501.4,269.1 502.7,263.9 504.6,258.6 506.8,253.6 509.5,249.2 512.3,246 519.1,239.6 522.3,236.2 525,232.5 527.7,227.6 530.9,220.9 534.1,213.6 537.2,205.6 540.4,196.8 544.5,183.9 550.4,162.3 553.6,151.6 556.8,142.1 560,134 563.1,127.3 564.5,125.1 565.9,123.5 567.7,122.1 569.5,121.4 571.3,121.3 573.1,121.8 574.9,122.9 576.3,124.2 578.1,126.7 579.9,129.9 582.7,136.4 585.4,145.8 589,164 599.9,224.7 603.6,246.3 614,311.5 617.6,332.4 620.8,348.9 624.9,366.7 627.2,375 629.4,382.3 631.7,388.7 634.4,395.3 636.7,400 639.4,404.6 643.5,410.5 648.5,416.1 654.4,421.5 660.8,426.2 668.5,431.1 676.7,435.4 685.8,439.5 695.3,443.1 704.8,446.1 714.8,448.6 725.3,450.8 735.7,452.3 747.1,453.5 758.4,454.2 770.2,454.4 782.5,454.1" stroke="#f07028" stroke-width="2.4"/>
<path d="M446.2,310.6 449.1,329.5 452.3,345.2 454.1,352.6 456.4,360.7 458.7,367.8 461,374.1 462.8,378.3 465,382.4 467.3,385.3 470,387.8 470.9,388.1 471.9,387.8 473.2,386.3 475,383.5 476.8,379.8 478.2,376.4 481.8,365.5 486.4,349.9 490,335.6 493.2,321 495.9,306.5 498.2,292.6 501.4,270.8 502.7,264.4 504.1,259.8 506.4,254.3 507.7,251.9 509.5,249.2 512.3,246.1 520,238.6 522.7,235.4 525,232.2 527.3,228.5 529.1,225.1 532.7,216.9 535,210.7 537.7,202.4 542.2,186.3 546.3,169.1 556.3,123 559.5,110.2 563.1,97.7 564.5,93.7 566.3,89.4 568.1,85.9 569.9,83.1 571.8,80.9 573.1,79.8 574.5,79.4 575.9,79.8 577.2,80.8 578.6,82.3 580.4,85.1 581.8,87.7 584,93.6 585.8,100.9 590.8,130 599,174.7 602.2,193.1 605.8,216.6 613.5,270.4 617.2,293.4 620.8,313.4 624.4,330.8 629.9,353.1 633.1,364.5 635.8,373.3 638.5,381.2 641.2,388.1 644,394.2 647.2,400.4 651.2,407.1 655.8,413.4 660.8,419.1 666.2,424.1 672.1,428.6 678.5,432.5 686.2,436.4 694.8,440.1 705.7,444.1 716.6,447.7 724.8,449.9 732.5,451.4 741.2,452.5 751.2,453.3 761.6,453.8 782.5,454.3" stroke="#6010d8" stroke-width="2.4"/>
</g>
<g fill="none" stroke-width="2"><path d="M617.3,41.6H658.9" stroke="#000000"/><path d="M617.3,64.8H658.9" stroke="#e01010"/><path d="M617.3,88H658.9" stroke="#2848e0"/><path d="M617.3,111.2H658.9" stroke="#2a9a80"/><path d="M617.3,134.4H658.9" stroke="#b040f0"/><path d="M617.3,157.6H658.9" stroke="#808020"/><path d="M617.3,180.8H658.9" stroke="#0a0aa0"/><path d="M617.3,204H658.9" stroke="#701010"/><path d="M617.3,227.2H658.9" stroke="#f030f0"/><path d="M617.3,250.4H658.9" stroke="#30a030"/><path d="M617.3,273.6H658.9" stroke="#0818b0"/><path d="M617.3,296.8H658.9" stroke="#f07028"/><path d="M617.3,320H658.9" stroke="#6010d8"/></g>
<g fill="#000" stroke="#000">
<path d="M221.4,80 L215.6,160" stroke-width="1" />
<path d="M215.5,164 L212.9,153 L218.5,153.2Z" stroke="none"/>
<path d="M120.9,357.3 L118.1,368.2 L124,368.2Z" stroke="none"/>
<path d="M568.5,156 L571.2,119" stroke-width="1"/>
<path d="M571.9,109.5 L568.5,120.3 L573.8,120.3Z" stroke="none"/>
</g>
<g fill="#000">
<text class="yl" x="73.5" y="460.6">0.0</text>
<text class="yl" x="73.5" y="372.2">0.2</text>
<text class="yl" x="73.5" y="283.7">0.4</text>
<text class="yl" x="73.5" y="195.2">0.6</text>
<text class="yl" x="73.5" y="106.8">0.8</text>
<text class="yl" x="73.5" y="18.4">1.0</text>
<text class="xl" x="158.8" y="487.4">300</text>
<text class="xl" x="510" y="487.4">300</text>
<text class="xl" x="248.1" y="487.4">400</text>
<text class="xl" x="600.8" y="487.4">400</text>
<text class="xl" x="337.3" y="487.4">500</text>
<text class="xl" x="691.7" y="487.4">500</text>
<text class="xl" x="426.6" y="487.4">600</text>
<text class="xl" x="782.5" y="487.4">600</text>
<text class="la" x="372.4" y="54.6">0s</text>
<text class="la" x="372.4" y="73.5">2s</text>
<text class="la" x="372.4" y="92.4">5s</text>
<text class="la" x="372.4" y="111.3">10s</text>
<text class="la" x="372.4" y="130.1">15s</text>
<text class="la" x="372.4" y="149">20s</text>
<text class="la" x="372.4" y="167.9">30s</text>
<text class="la" x="372.4" y="186.8">40s</text>
<text class="la" x="372.4" y="205.7">50s</text>
<text class="la" x="372.4" y="224.6">60s</text>
<text class="la" x="372.4" y="243.5">80s</text>
<text class="la" x="372.4" y="262.3">100s</text>
<text class="la" x="372.4" y="281.2">120s</text>
<text class="la" x="372.4" y="300.1">150s</text>
<text class="la" x="372.4" y="319">180s</text>
<text class="la" x="372.4" y="337.9">240s</text>
<text class="la" x="372.4" y="356.8">300s</text>
<text class="la" x="372.4" y="375.7">420s</text>
<text class="la" x="375.7" y="394.5">600s</text>
<text class="la" x="372.4" y="413.4">1200s</text>
<text class="la" x="372.4" y="432.3">1800s</text>
<text class="la" x="372.4" y="451.2">3600s</text>
<text class="lb" x="663.4" y="47.8">365 nm 3600 s</text>
<text class="lb" x="663.4" y="71">450 nm2s</text>
<text class="lb" x="663.4" y="94.2">450 nm4s</text>
<text class="lb" x="663.4" y="117.4">450 nm8s</text>
<text class="lb" x="663.4" y="140.6">450 nm12s</text>
<text class="lb" x="663.4" y="163.8">450 nm20s</text>
<text class="lb" x="663.4" y="187">450 nm30s</text>
<text class="lb" x="663.4" y="210.2">450 nm40s</text>
<text class="lb" x="663.4" y="233.4">450 nm60s</text>
<text class="lb" x="663.4" y="256.6">450 nm120s</text>
<text class="lb" x="663.4" y="279.8">450 nm300s</text>
<text class="lb" x="663.4" y="303">450 nm 600s</text>
<text class="lb" x="663.4" y="326.2">no irradiation</text>
<text class="t" x="88.2" y="34.8" font-size="24">(a)</text>
<text class="t" x="447" y="34.8" font-size="24">(b)</text>
<text class="t" x="159.3" y="37.5" font-size="20.15" xml:space="preserve">365 nm  light irradiation</text>
<text class="t" x="339" y="530.8" font-size="24">Wavelength / nm</text>
<text class="ab" x="17.6" y="225.2" transform="rotate(-90 17.6 225.2)" font-family="Liberation Sans, sans-serif" font-weight="bold" font-size="23.5" text-anchor="middle">Abs.</text>
</g>
</svg>
</body></html>
